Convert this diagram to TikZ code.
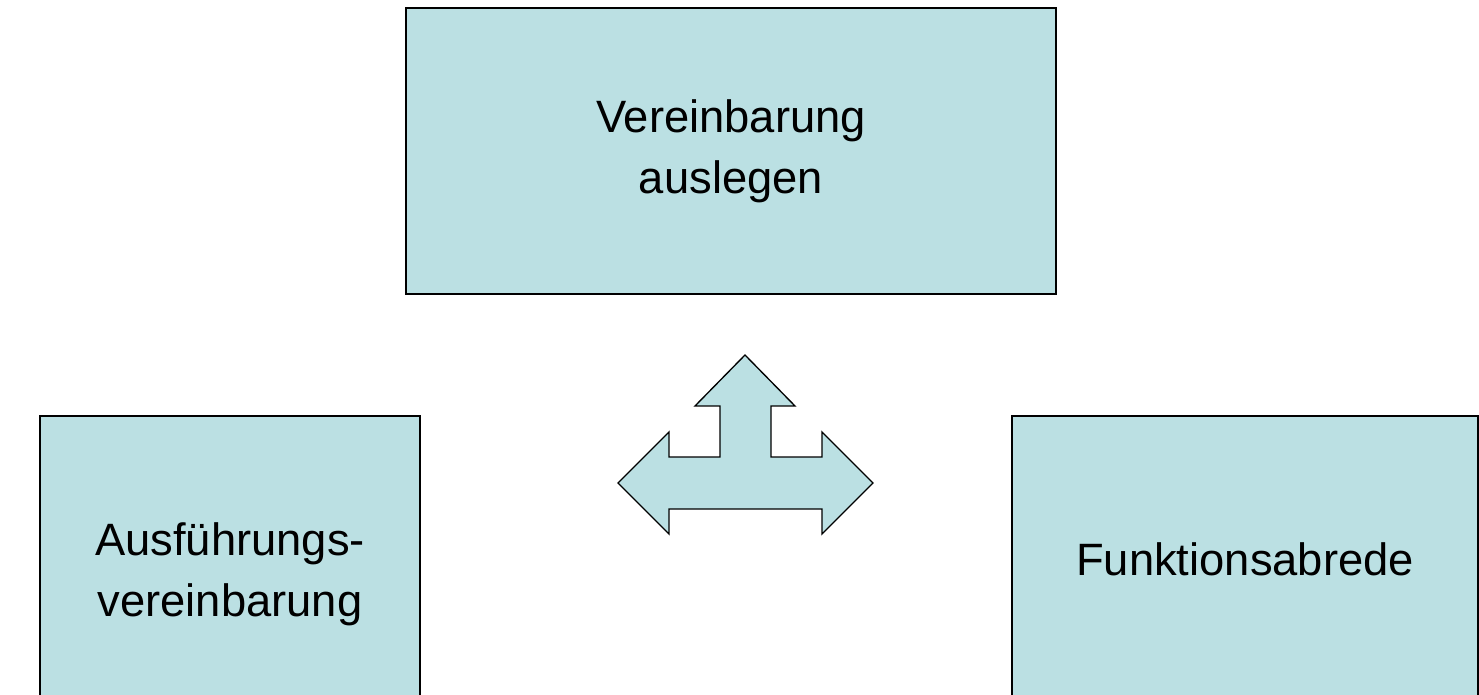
\documentclass[tikz,border=0pt]{standalone}
\usepackage{fontspec}
\setmainfont{Liberation Sans}
\usepackage{tikz}
\definecolor{boxblue}{HTML}{BBE0E3}
\tikzset{mybox/.style={draw,fill=boxblue,line width=1pt,align=center,inner sep=0pt,
    font=\fontsize{34}{46}\selectfont} }
\tikzset{myarrow/.style={draw,fill=boxblue,line width=1pt,line join=miter} }

\begin{document}
\begin{tikzpicture}[x=0.75pt,y=-0.75pt]
    \useasboundingbox (0,0) rectangle (1479,695);
    \clip (0,0) rectangle (1479,695);
    \node[mybox,minimum width=487.5pt,minimum height=214.5pt] (agree) at (731,151) {Vereinbarung\\auslegen};
    \node[mybox,minimum width=285pt,minimum height=237pt] (exec) at (230,574) {Ausführungs-\\vereinbarung};
    \node[mybox,minimum width=349.5pt,minimum height=214.5pt] (func) at (1245,559) {Funktionsabrede};
    % three-way block arrow
    \path[myarrow] (745,355) -- (795,406) -- (771,406) -- (771,457) -- (822,457) -- (822,432)
        -- (873,483) -- (822,534) -- (822,509) -- (669,509) -- (669,534) -- (618,483)
        -- (669,432) -- (669,457) -- (720,457) -- (720,406) -- (695,406) -- cycle;
\end{tikzpicture}
\end{document}
